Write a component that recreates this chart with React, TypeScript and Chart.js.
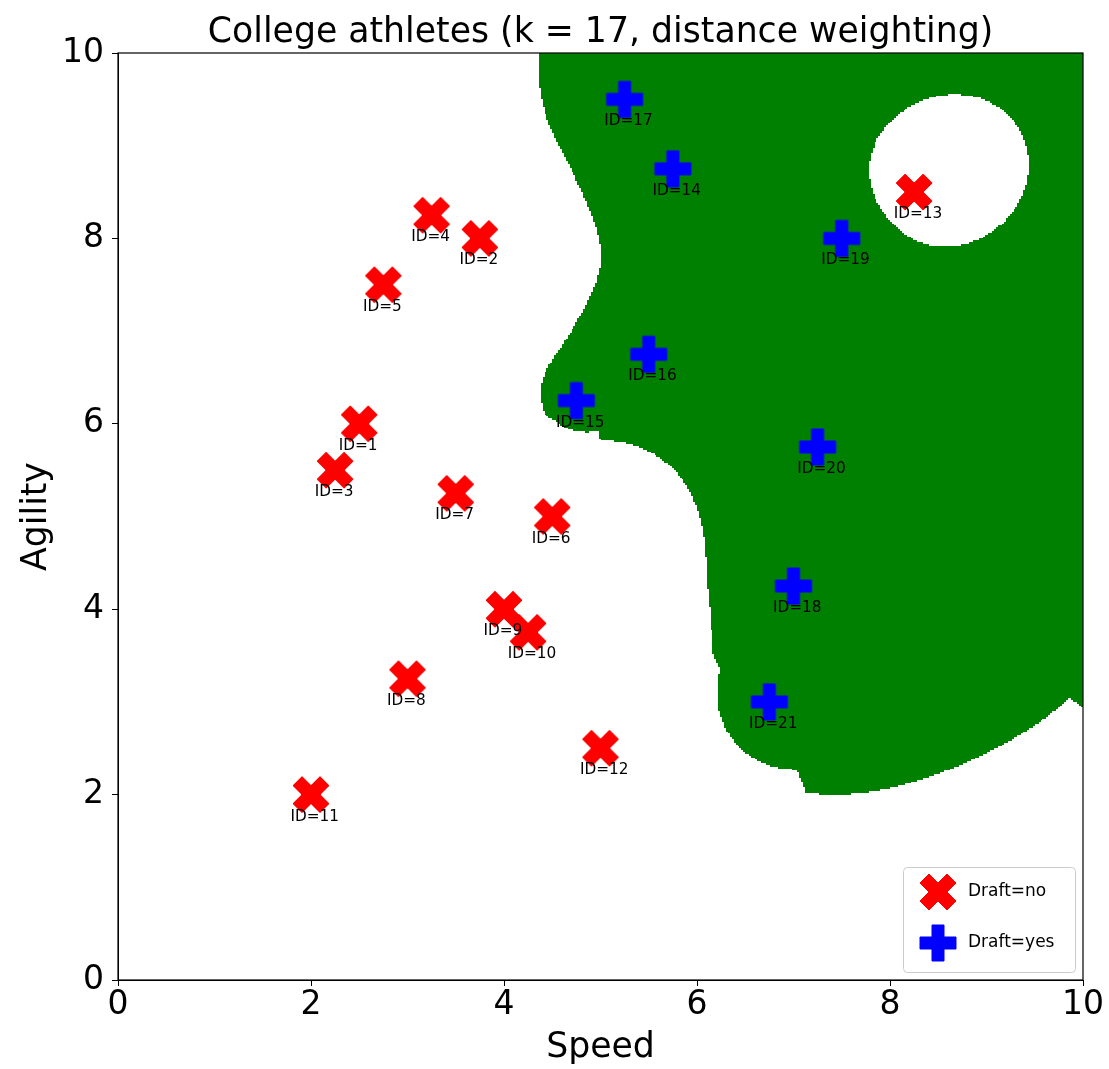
import React, { useEffect, useRef } from "react";
import { Chart, registerables } from "chart.js";

Chart.register(...registerables);

// ---- data ----
const noIds = [1, 2, 3, 4, 5, 6, 7, 8, 9, 10, 11, 12, 13];
const noSpeed = [2.5, 3.75, 2.25, 3.25, 2.75, 4.5, 3.5, 3.0, 4.0, 4.25, 2.0, 5.0, 8.25];
const noAgility = [6.0, 8.0, 5.5, 8.25, 7.5, 5.0, 5.25, 3.25, 4.0, 3.75, 2.0, 2.5, 8.5];

const yesIds = [14, 15, 16, 17, 18, 19, 20, 21];
const yesSpeed = [5.75, 4.75, 5.5, 5.25, 7.0, 7.5, 7.25, 6.75];
const yesAgility = [8.75, 6.25, 6.75, 9.5, 4.25, 8.0, 5.75, 3.0];

const seriesLabels = ["Draft=no", "Draft=yes"];
const K_NEIGHBOURS = 17;
const GRID_STEP = 0.02;
const axisMin = 0;
const axisMax = 10;
const tickStep = 2;

const chartTitle = "College athletes (k = 17, distance weighting)";
const xTitle = "Speed";
const yTitle = "Agility";

const FONT = "'DejaVu Sans', sans-serif";
const RED = "#ff0000";
const BLUE = "#0000ff";

function makeMarker(kind: "x" | "plus", color: string, size: number) {
  const pad = 3;
  const dim = Math.ceil(size + pad * 2);
  const c = document.createElement("canvas");
  c.width = dim;
  c.height = dim;
  const ctx = c.getContext("2d")!;
  ctx.translate(dim / 2, dim / 2);
  let pts: number[][];
  if (kind === "plus") {
    pts = [
      [-1, -3], [-1, -1], [-3, -1], [-3, 1], [-1, 1], [-1, 3],
      [1, 3], [1, 1], [3, 1], [3, -1], [1, -1], [1, -3],
    ].map(([a, b]) => [(a / 6) * size, (b / 6) * size]);
  } else {
    pts = [
      [0.25, 0], [0.5, 0.25], [0.75, 0], [1, 0.25], [0.75, 0.5], [1, 0.75],
      [0.75, 1], [0.5, 0.75], [0.25, 1], [0, 0.75], [0.25, 0.5], [0, 0.25],
    ].map(([a, b]) => [(a - 0.5) * size, (b - 0.5) * size]);
  }
  ctx.beginPath();
  pts.forEach(([a, b], i) => (i === 0 ? ctx.moveTo(a, b) : ctx.lineTo(a, b)));
  ctx.closePath();
  ctx.fillStyle = color;
  ctx.fill();
  ctx.strokeStyle = color;
  ctx.lineWidth = 1;
  ctx.lineJoin = "round";
  ctx.stroke();
  return c;
}

function computeRegion(xmin: number, xmax: number, ymin: number, ymax: number) {
  const px: number[] = [];
  const py: number[] = [];
  const cls: number[] = [];
  noSpeed.forEach((v, i) => { px.push(v); py.push(noAgility[i]); cls.push(0); });
  yesSpeed.forEach((v, i) => { px.push(v); py.push(yesAgility[i]); cls.push(1); });
  const nx = Math.round((xmax - xmin) / GRID_STEP);
  const ny = Math.round((ymax - ymin) / GRID_STEP);
  const canvas = document.createElement("canvas");
  canvas.width = nx;
  canvas.height = ny;
  const ctx = canvas.getContext("2d")!;
  const img = ctx.createImageData(nx, ny);
  const n = px.length;
  const d = new Float64Array(n);
  const idx: number[] = [];
  for (let i = 0; i < n; i++) idx.push(i);
  for (let r = 0; r < ny; r++) {
    const y = ymax - (r + 0.5) * GRID_STEP;
    for (let c = 0; c < nx; c++) {
      const x = xmin + (c + 0.5) * GRID_STEP;
      for (let i = 0; i < n; i++) d[i] = Math.hypot(x - px[i], y - py[i]);
      idx.sort((a, b) => d[a] - d[b]);
      let w0 = 0, w1 = 0;
      for (let k = 0; k < K_NEIGHBOURS; k++) {
        const j = idx[k];
        const w = 1 / Math.max(d[j], 1e-9);
        if (cls[j] === 0) w0 += w; else w1 += w;
      }
      if (w1 > w0) {
        const o = (r * nx + c) * 4;
        img.data[o] = 0;
        img.data[o + 1] = 128;
        img.data[o + 2] = 0;
        img.data[o + 3] = 255;
      }
    }
  }
  ctx.putImageData(img, 0, 0);
  return canvas;
}

export default function App() {
  const ref = useRef<HTMLCanvasElement | null>(null);

  useEffect(() => {
    if (!ref.current) return;
    const xMarker = makeMarker("x", RED, 36);
    const plusMarker = makeMarker("plus", BLUE, 36);
    let regionCanvas: HTMLCanvasElement | null = null;

    const regionPlugin = {
      id: "region",
      beforeDatasetsDraw(chart: any) {
        const xs = chart.scales.x, ys = chart.scales.y;
        if (!regionCanvas) regionCanvas = computeRegion(xs.min, xs.max, ys.min, ys.max);
        const ctx = chart.ctx;
        const l = xs.getPixelForValue(xs.min), r = xs.getPixelForValue(xs.max);
        const t = ys.getPixelForValue(ys.max), b = ys.getPixelForValue(ys.min);
        ctx.save();
        ctx.imageSmoothingEnabled = false;
        ctx.drawImage(regionCanvas, l, t, r - l, b - t);
        ctx.restore();
      },
    };

    const idLabelPlugin = {
      id: "idLabels",
      afterDatasetsDraw(chart: any) {
        const ctx = chart.ctx;
        ctx.save();
        ctx.font = `15.3px ${FONT}`;
        ctx.fillStyle = "#000";
        ctx.textAlign = "left";
        ctx.textBaseline = "alphabetic";
        const idLists = [noIds, yesIds];
        chart.data.datasets.forEach((_: any, di: number) => {
          const meta = chart.getDatasetMeta(di);
          meta.data.forEach((el: any, i: number) => {
            ctx.fillText(`ID=${idLists[di][i]}`, el.x - 20.5, el.y + 26);
          });
        });
        // frame
        const a = chart.chartArea;
        ctx.strokeStyle = "#000";
        ctx.lineWidth = 1.2;
        ctx.strokeRect(a.left, a.top, a.right - a.left, a.bottom - a.top);
        ctx.restore();
      },
    };

    const decorPlugin = {
      id: "decor",
      afterDraw(chart: any) {
        const ctx = chart.ctx;
        const a = chart.chartArea;
        ctx.save();
        // title
        ctx.font = `34.7px ${FONT}`;
        ctx.fillStyle = "#000";
        ctx.textAlign = "center";
        ctx.textBaseline = "alphabetic";
        ctx.fillText(chartTitle, (a.left + a.right) / 2, 42);
        // legend
        const bw = 172, bh = 105;
        const bx = a.right - 8 - bw, by = a.bottom - 8 - bh;
        ctx.beginPath();
        (ctx as any).roundRect(bx + 0.5, by + 0.5, bw, bh, 4);
        ctx.fillStyle = "rgba(255,255,255,0.8)";
        ctx.fill();
        ctx.strokeStyle = "#cccccc";
        ctx.lineWidth = 1;
        ctx.stroke();
        const markers = [xMarker, plusMarker];
        chart.data.datasets.forEach((ds: any, i: number) => {
          const cy = by + 25 + i * 51;
          const cx = bx + 35;
          const m = markers[i];
          ctx.drawImage(m, cx - m.width / 2, cy - m.height / 2);
          ctx.font = `17px ${FONT}`;
          ctx.fillStyle = "#000";
          ctx.textAlign = "left";
          ctx.textBaseline = "middle";
          ctx.fillText(ds.label, bx + 65, cy);
        });
        ctx.restore();
      },
    };

    const tickFont = { family: FONT, size: 33 };
    const titleFont = { family: FONT, size: 34.7, lineHeight: 1.2 };

    const chart = new Chart(ref.current, {
      type: "scatter",
      data: {
        datasets: [
          {
            label: seriesLabels[0],
            data: noSpeed.map((x, i) => ({ x, y: noAgility[i] })),
            pointStyle: xMarker as any,
            pointRadius: 18,
            backgroundColor: RED,
            borderColor: RED,
          },
          {
            label: seriesLabels[1],
            data: yesSpeed.map((x, i) => ({ x, y: yesAgility[i] })),
            pointStyle: plusMarker as any,
            pointRadius: 18,
            backgroundColor: BLUE,
            borderColor: BLUE,
          },
        ],
      },
      options: {
        animation: false,
        responsive: false,
        devicePixelRatio: 1,
        layout: { padding: { top: 53, right: 26, left: 0, bottom: 0 } },
        plugins: {
          legend: { display: false },
          tooltip: { enabled: false },
          title: { display: false },
        },
        scales: {
          x: {
            type: "linear",
            min: axisMin,
            max: axisMax,
            ticks: { stepSize: tickStep, font: tickFont, color: "#000", padding: 0, maxRotation: 0 },
            grid: { display: true, drawOnChartArea: false, drawTicks: true, tickLength: 6, color: "#000" },
            border: { display: true, color: "#000" },
            title: { display: true, text: xTitle, font: titleFont, color: "#000", padding: 0 },
            afterFit: (s: any) => { s.height = 89; },
          },
          y: {
            type: "linear",
            min: axisMin,
            max: axisMax,
            ticks: { stepSize: tickStep, font: tickFont, color: "#000", padding: 8 },
            grid: { display: true, drawOnChartArea: false, drawTicks: true, tickLength: 6, color: "#000" },
            border: { display: true, color: "#000" },
            title: { display: true, text: yTitle, font: titleFont, color: "#000", padding: { top: 16, bottom: 0 } },
            afterFit: (s: any) => { s.width = 118; },
          },
        },
      } as any,
      plugins: [regionPlugin, idLabelPlugin, decorPlugin],
    });
    return () => chart.destroy();
  }, []);

  return (
    <div style={{ position: "absolute", left: 0, top: 0, width: 1109, height: 1069 }}>
      <canvas ref={ref} width={1109} height={1069} style={{ width: 1109, height: 1069, display: "block" }} />
    </div>
  );
}
